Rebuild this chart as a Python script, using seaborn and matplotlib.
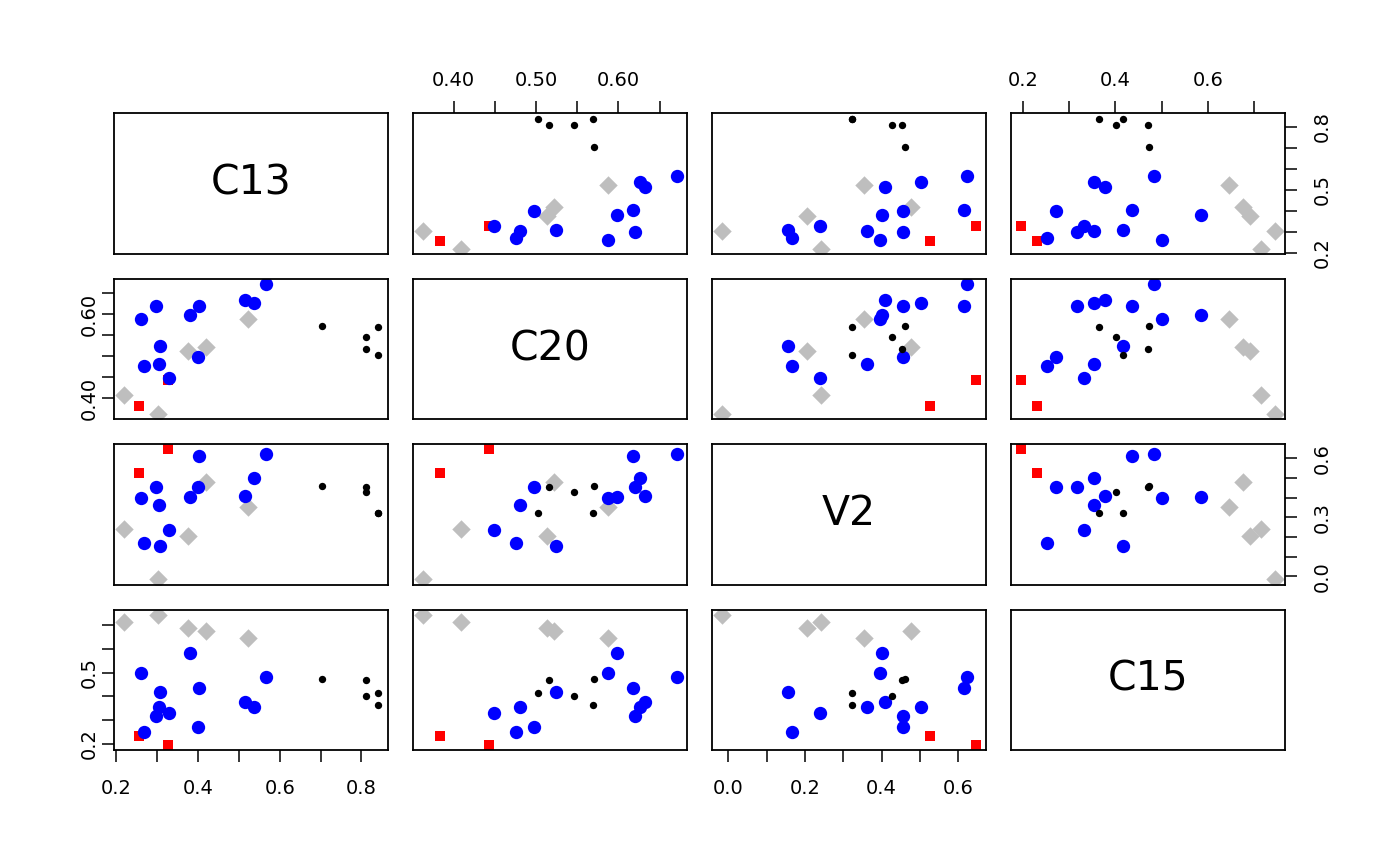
import numpy as np
import pandas as pd
import matplotlib
matplotlib.use("Agg")
import matplotlib.pyplot as plt
import seaborn as sns

# ---- data ----
variables = ["C13", "C20", "V2", "C15"]

black_C13 = [0.840, 0.811, 0.812, 0.840, 0.703]
black_C20 = [0.503, 0.516, 0.546, 0.569, 0.571]
black_V2 = [0.323, 0.453, 0.428, 0.323, 0.460]
black_C15 = [0.416, 0.471, 0.401, 0.365, 0.472]

blue_C13 = [0.329, 0.304, 0.268, 0.400, 0.308, 0.261, 0.380, 0.403, 0.298, 0.538, 0.514, 0.567]
blue_C20 = [0.449, 0.481, 0.476, 0.497, 0.524, 0.588, 0.598, 0.618, 0.620, 0.626, 0.632, 0.671]
blue_V2 = [0.238, 0.361, 0.167, 0.455, 0.155, 0.397, 0.402, 0.614, 0.456, 0.502, 0.410, 0.624]
blue_C15 = [0.332, 0.354, 0.251, 0.272, 0.417, 0.501, 0.585, 0.435, 0.316, 0.354, 0.378, 0.483]

gray_C13 = [0.302, 0.219, 0.376, 0.419, 0.523]
gray_C20 = [0.363, 0.409, 0.513, 0.522, 0.588]
gray_V2 = [-0.016, 0.243, 0.205, 0.478, 0.353]
gray_C15 = [0.745, 0.714, 0.691, 0.677, 0.646]

red_C13 = [0.256, 0.326]
red_C20 = [0.383, 0.443]
red_V2 = [0.525, 0.646]
red_C15 = [0.231, 0.196]

group_order = ["red", "gray", "blue", "black"]
group_colors = {"red": "#FF0000", "gray": "#BEBEBE", "blue": "#0000FF", "black": "#000000"}
group_markers = ["s", "D", "o", "o"]
group_sizes = [55, 88, 92, 28]

# tick positions / labels
xticks = {
    "C13": ([0.2, 0.3, 0.4, 0.5, 0.6, 0.7, 0.8], ["0.2", "", "0.4", "", "0.6", "", "0.8"]),
    "C20": ([0.40, 0.45, 0.50, 0.55, 0.60, 0.65], ["0.40", "", "0.50", "", "0.60", ""]),
    "V2": ([0.0, 0.1, 0.2, 0.3, 0.4, 0.5, 0.6], ["0.0", "", "0.2", "", "0.4", "", "0.6"]),
    "C15": ([0.2, 0.3, 0.4, 0.5, 0.6, 0.7], ["0.2", "", "0.4", "", "0.6", ""]),
}
yticks = {
    "C13": ([0.2, 0.3, 0.4, 0.5, 0.6, 0.7, 0.8], ["0.2", "", "", "0.5", "", "", "0.8"]),
    "C20": ([0.40, 0.45, 0.50, 0.55, 0.60, 0.65], ["0.40", "", "", "", "0.60", ""]),
    "V2": ([0.0, 0.1, 0.2, 0.3, 0.4, 0.5, 0.6], ["0.0", "", "", "0.3", "", "", "0.6"]),
    "C15": ([0.2, 0.3, 0.4, 0.5, 0.6, 0.7], ["0.2", "", "", "0.5", "", ""]),
}

frames = []
for name, c13, c20, v2, c15 in [
    ("black", black_C13, black_C20, black_V2, black_C15),
    ("blue", blue_C13, blue_C20, blue_V2, blue_C15),
    ("gray", gray_C13, gray_C20, gray_V2, gray_C15),
    ("red", red_C13, red_C20, red_V2, red_C15),
]:
    frames.append(pd.DataFrame({"C13": c13, "C20": c20, "V2": v2, "C15": c15, "grp": name}))
df = pd.concat(frames, ignore_index=True)

sns.set_theme(style="white")
plt.rcParams["font.family"] = ["DejaVu Sans"]
plt.rcParams["axes.edgecolor"] = "black"
plt.rcParams["axes.linewidth"] = 1.2
plt.rcParams["xtick.color"] = "black"
plt.rcParams["ytick.color"] = "black"

g = sns.PairGrid(
    df, vars=variables, hue="grp", hue_order=group_order, palette=group_colors,
    hue_kws={"marker": group_markers, "s": group_sizes},
    despine=False, height=2, aspect=1.94,
)
g.map_offdiag(plt.scatter, linewidths=0)

fig = g.figure
fig.set_size_inches(14, 8.66)
fig.subplots_adjust(left=0.0814, right=0.9179, top=0.869, bottom=0.134,
                    wspace=0.0912, hspace=0.178)

n = len(variables)
# limits like R (4% extension)
for j, v in enumerate(variables):
    lo, hi = df[v].min(), df[v].max()
    ext = 0.04 * (hi - lo)
    g.axes[0, j].set_xlim(lo - ext, hi + ext)
    g.axes[j, 0].set_ylim(lo - ext, hi + ext)
    g.axes[0, j].set_xticks(xticks[v][0], xticks[v][1])
    g.axes[j, 0].set_yticks(yticks[v][0], yticks[v][1])

for i in range(n):
    for j in range(n):
        ax = g.axes[i, j]
        ax.set_xlabel("")
        ax.set_ylabel("")
        ax.set_facecolor("white")
        for s in ax.spines.values():
            s.set_visible(True)
            s.set_color("black")
            s.set_linewidth(1.3)
        ax.tick_params(which="both", bottom=False, top=False, left=False, right=False,
                       labelbottom=False, labeltop=False, labelleft=False, labelright=False,
                       length=8.6, width=1.1, labelsize=14, colors="black")

for i, v in enumerate(variables):
    g.axes[i, i].text(0.5, 0.5, v, transform=g.axes[i, i].transAxes,
                      ha="center", va="center", fontsize=29.5, color="black")

# R-style alternating axes
for j in [1, 3]:
    g.axes[0, j].tick_params(axis="x", top=True, labeltop=True, pad=8.5)
for j in [0, 2]:
    g.axes[n - 1, j].tick_params(axis="x", bottom=True, labelbottom=True, pad=12)
for i in [1, 3]:
    g.axes[i, 0].tick_params(axis="y", left=True, labelleft=True, pad=2, labelrotation=90)
    for lab in g.axes[i, 0].get_yticklabels():
        lab.set_verticalalignment("center")
for i in [0, 2]:
    g.axes[i, n - 1].tick_params(axis="y", right=True, labelright=True, pad=11.5, labelrotation=90)
    for lab in g.axes[i, n - 1].get_yticklabels():
        lab.set_verticalalignment("center")

fig.savefig("out.png", dpi=100)
